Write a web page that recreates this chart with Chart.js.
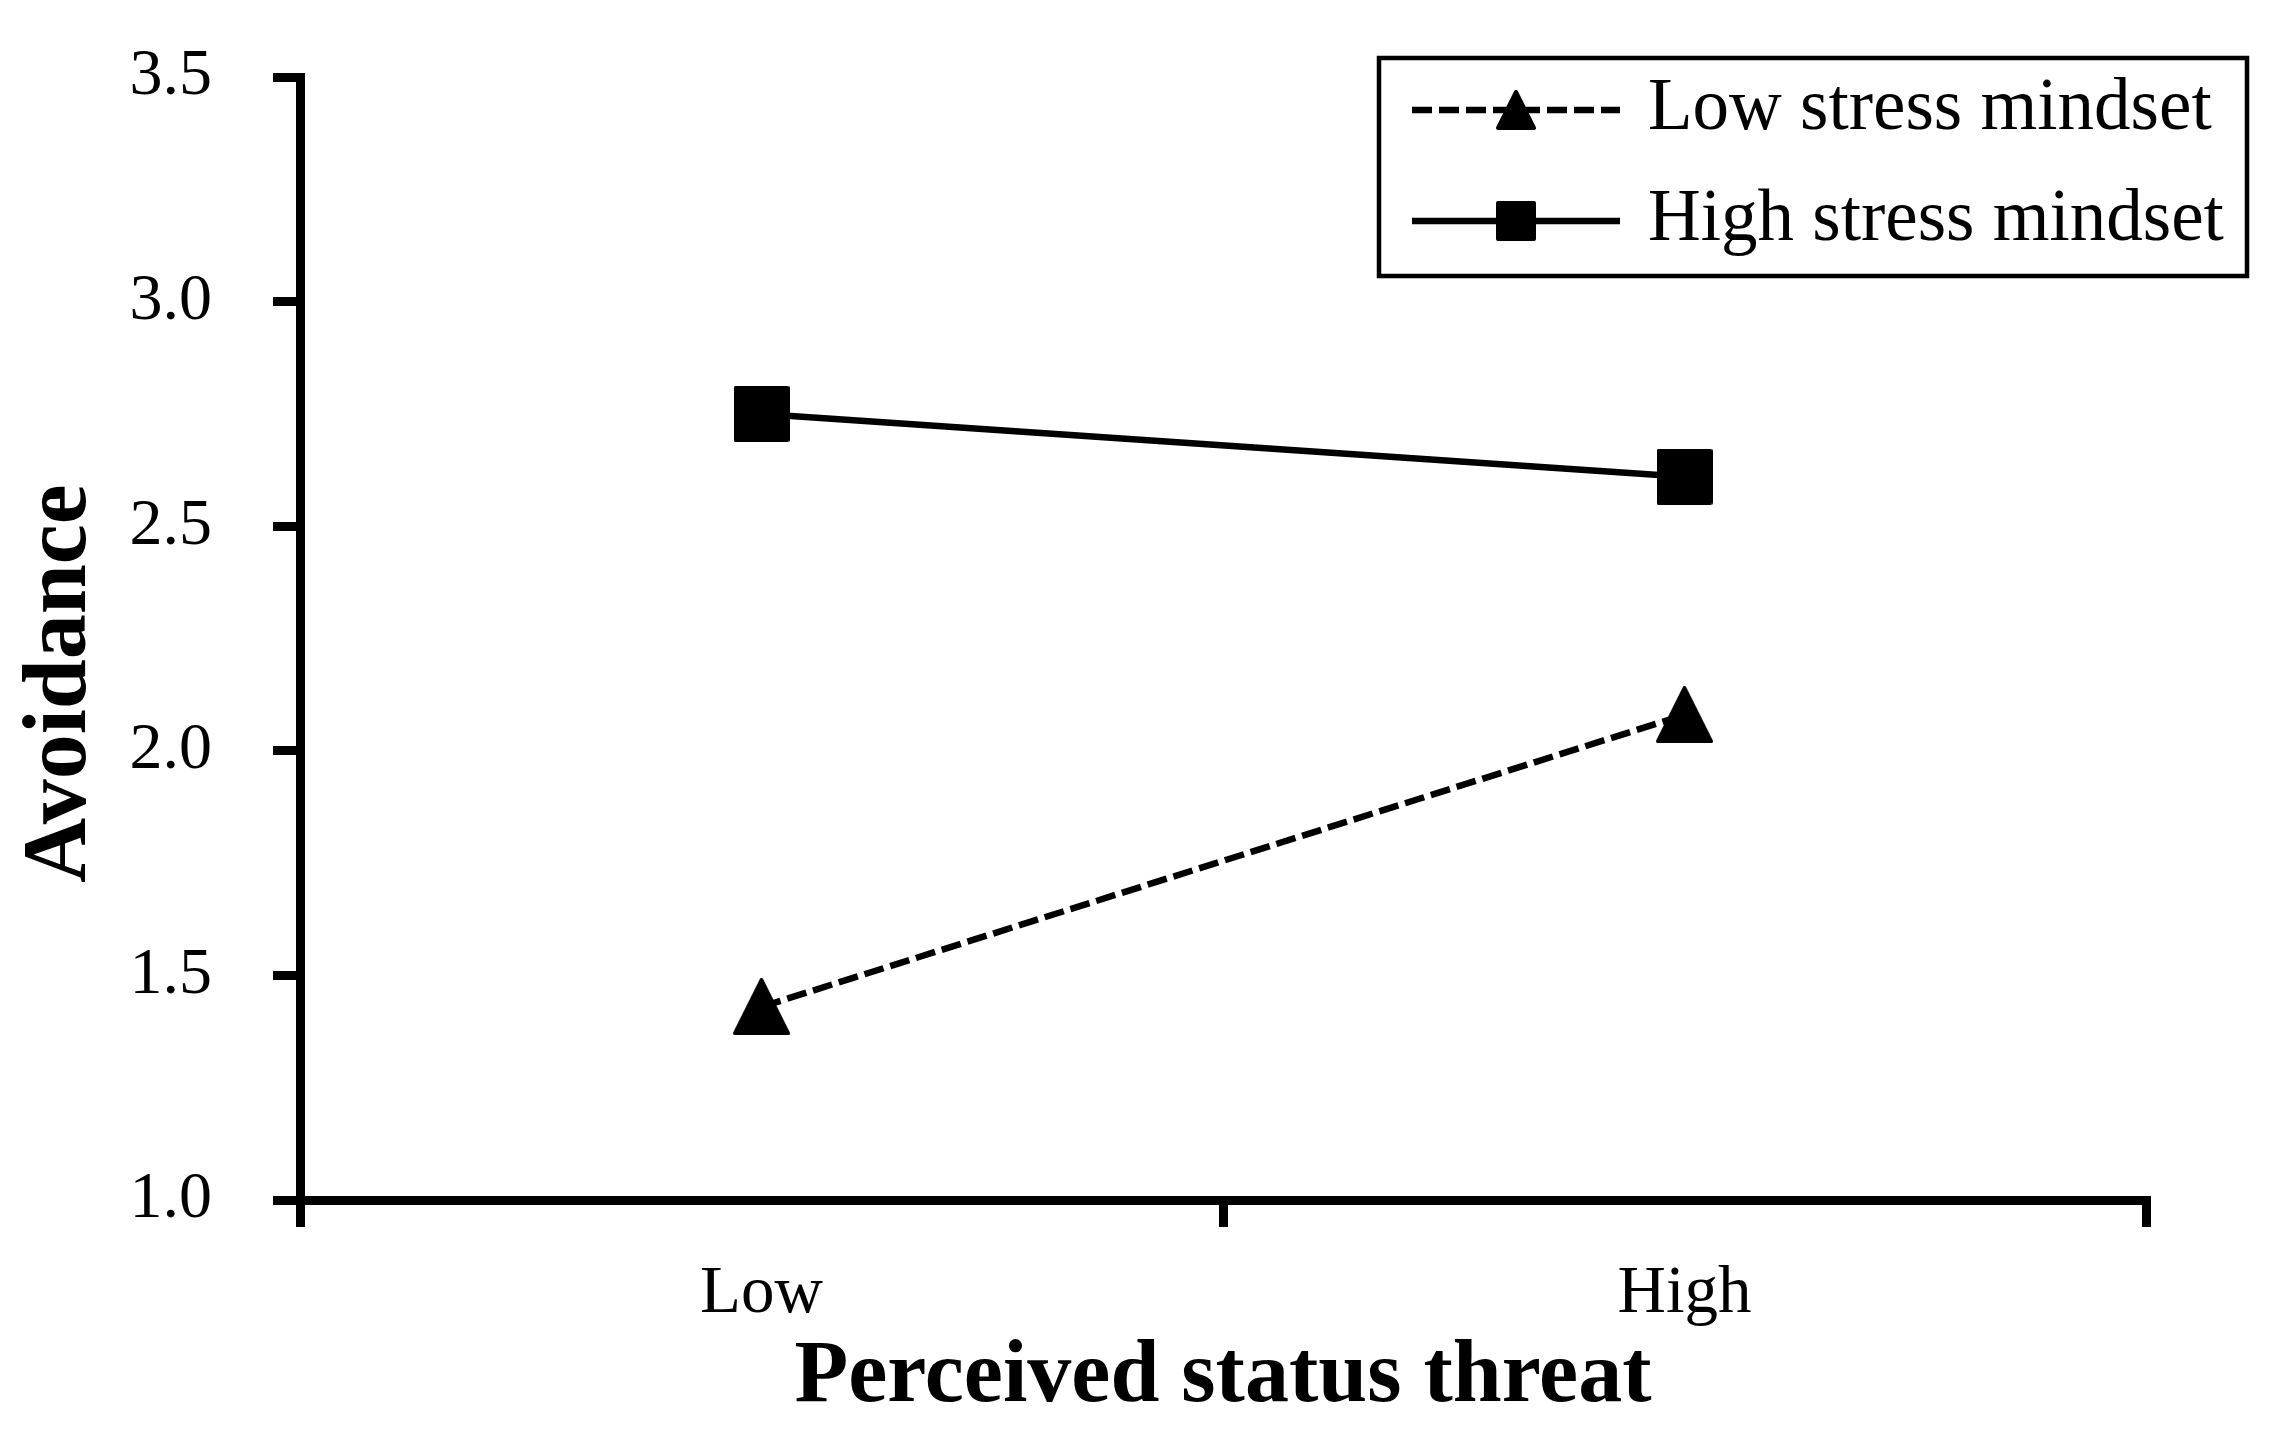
<!DOCTYPE html>
<html>
<head>
<meta charset="utf-8">
<script src="https://cdn.jsdelivr.net/npm/chart.js@4.4.1/dist/chart.umd.min.js"></script>
<style>
  html, body { margin: 0; padding: 0; background: #fff; }
  #wrap { width: 2272px; height: 1431px; }
</style>
</head>
<body>
<div id="wrap"><canvas id="grafico" width="2272" height="1431"></canvas></div>
<script>
// valores
const categorias = ['Low', 'High'];
const lowStress = [1.43, 2.08];
const highStress = [2.75, 2.61];
const yTicks = [1.0, 1.5, 2.0, 2.5, 3.0, 3.5];
const nomes = ['Low stress mindset', 'High stress mindset'];

const fonte = "'Liberation Serif', 'Times New Roman', serif";

// marcadores estilo Excel (triangulo e quadrado)
function marcador(tipo, tam) {
    const c = document.createElement('canvas');
    c.width = tam;
    c.height = tam;
    const g = c.getContext('2d');
    const m = 2;
    g.fillStyle = '#000';
    g.strokeStyle = '#000';
    g.lineJoin = 'round';
    g.lineWidth = m * 2;
    g.beginPath();
    if (tipo === 'tri') {
        g.moveTo(tam / 2, m);
        g.lineTo(tam - m, tam - m);
        g.lineTo(m, tam - m);
    } else {
        g.rect(m, m, tam - 2 * m, tam - 2 * m);
    }
    g.closePath();
    g.fill();
    g.stroke();
    return c;
}

const triGrande = marcador('tri', 57);
const quadGrande = marcador('quad', 56);
const triPeq = marcador('tri', 40);
const quadPeq = marcador('quad', 40);

// legenda com borda, desenhada a mao
const legendaBox = {
    id: 'legendaBox',
    afterDraw(chart) {
        const ctx = chart.ctx;
        ctx.save();
        ctx.strokeStyle = '#000';
        ctx.lineWidth = 4.5;
        ctx.strokeRect(1379, 58, 868, 218);
        const linhas = [110, 221];
        const pequenos = [triPeq, quadPeq];
        chart.data.datasets.forEach((ds, i) => {
            const y = linhas[i];
            ctx.beginPath();
            ctx.setLineDash(ds.borderDash || []);
            ctx.lineWidth = ds.borderWidth;
            ctx.strokeStyle = ds.borderColor;
            ctx.moveTo(1412, y);
            ctx.lineTo(1620, y);
            ctx.stroke();
            ctx.setLineDash([]);
            ctx.drawImage(pequenos[i], 1516 - 20, y - 20, 40, 40);
            ctx.fillStyle = '#000';
            ctx.font = '73px ' + fonte;
            ctx.textBaseline = 'middle';
            ctx.textAlign = 'left';
            ctx.fillText(ds.label, 1648, y);
        });
        ctx.restore();
    }
};

const ctx = document.getElementById('grafico').getContext('2d');
const chart = new Chart(ctx, {
    type: 'line',
    data: {
        labels: categorias,
        datasets: [{
            label: nomes[0],
            data: lowStress,
            borderColor: '#000',
            backgroundColor: '#000',
            borderWidth: 6.5,
            borderDash: [20, 7],
            pointStyle: triGrande,
            pointRadius: 28,
            tension: 0,
            fill: false
        }, {
            label: nomes[1],
            data: highStress,
            borderColor: '#000',
            backgroundColor: '#000',
            borderWidth: 6.5,
            pointStyle: quadGrande,
            pointRadius: 28,
            tension: 0,
            fill: false
        }]
    },
    options: {
        responsive: false,
        animation: false,
        layout: {
            padding: { left: 0, right: 126, top: 77, bottom: 0 }
        },
        plugins: {
            legend: { display: false },
            tooltip: { enabled: false }
        },
        scales: {
            x: {
                type: 'category',
                offset: true,
                afterFit: (scale) => { scale.height = 231; },
                grid: {
                    offset: true,
                    drawOnChartArea: false,
                    drawTicks: true,
                    tickLength: 27,
                    lineWidth: 9,
                    tickWidth: 9,
                    tickColor: '#000',
                    color: '#000'
                },
                border: { display: true, color: '#000', width: 9 },
                ticks: {
                    color: '#000',
                    padding: 27,
                    font: { family: fonte, size: 67 }
                },
                title: {
                    display: true,
                    text: 'Perceived status threat',
                    color: '#000',
                    padding: { top: 0, bottom: 0 },
                    font: { family: fonte, size: 88, weight: 'bold' }
                }
            },
            y: {
                min: 1,
                max: 3.5,
                afterFit: (scale) => {
                    scale.width = 300;
                    // o padding dos ticks empurrava a area do grafico pra baixo
                    scale.paddingTop = 40;
                    scale.paddingBottom = 40;
                },
                afterBuildTicks: (scale) => { scale.ticks = yTicks.map(v => ({ value: v })); },
                grid: {
                    drawOnChartArea: false,
                    drawTicks: true,
                    tickLength: 27,
                    lineWidth: 9,
                    tickWidth: 9,
                    tickColor: '#000',
                    color: '#000'
                },
                border: { display: true, color: '#000', width: 9 },
                ticks: {
                    color: '#000',
                    padding: 61,
                    font: { family: fonte, size: 66 },
                    callback: (v) => Number(v).toFixed(1)
                },
                title: {
                    display: true,
                    text: 'Avoidance\u00a0\u00a0\u00a0\u00a0',
                    color: '#000',
                    padding: { top: 8, bottom: 0 },
                    font: { family: fonte, size: 90, weight: 'bold' }
                }
            }
        }
    },
    plugins: [legendaBox]
});
</script>
</body>
</html>
